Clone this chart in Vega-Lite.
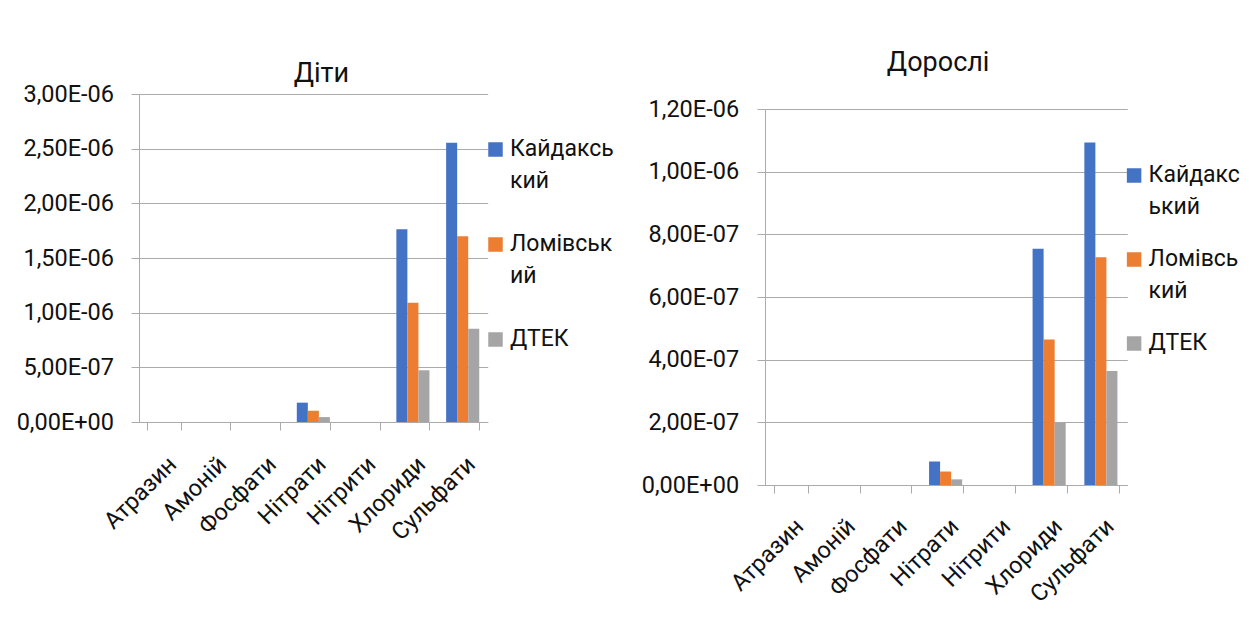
{
  "$schema": "https://vega.github.io/schema/vega-lite/v6.json",
  "background": "white",
  "padding": {"left": 16, "top": 48, "right": 0, "bottom": 0},
  "autosize": {"type": "pad"},
  "spacing": 27,
  "datasets": {
    "kids": [
      {"cat": "Атразин", "site": "Кайдаський", "v": 0},
      {"cat": "Атразин", "site": "Ломівський", "v": 0},
      {"cat": "Атразин", "site": "ДТЕК", "v": 0},
      {"cat": "Амоній", "site": "Кайдаський", "v": 0},
      {"cat": "Амоній", "site": "Ломівський", "v": 0},
      {"cat": "Амоній", "site": "ДТЕК", "v": 0},
      {"cat": "Фосфати", "site": "Кайдаський", "v": 0},
      {"cat": "Фосфати", "site": "Ломівський", "v": 0},
      {"cat": "Фосфати", "site": "ДТЕК", "v": 0},
      {"cat": "Нітрати", "site": "Кайдаський", "v": 1.77e-7},
      {"cat": "Нітрати", "site": "Ломівський", "v": 1.03e-7},
      {"cat": "Нітрати", "site": "ДТЕК", "v": 4.5e-8},
      {"cat": "Нітрити", "site": "Кайдаський", "v": 0},
      {"cat": "Нітрити", "site": "Ломівський", "v": 0},
      {"cat": "Нітрити", "site": "ДТЕК", "v": 0},
      {"cat": "Хлориди", "site": "Кайдаський", "v": 1.762e-6},
      {"cat": "Хлориди", "site": "Ломівський", "v": 1.09e-6},
      {"cat": "Хлориди", "site": "ДТЕК", "v": 4.73e-7},
      {"cat": "Сульфати", "site": "Кайдаський", "v": 2.553e-6},
      {"cat": "Сульфати", "site": "Ломівський", "v": 1.70e-6},
      {"cat": "Сульфати", "site": "ДТЕК", "v": 8.53e-7}
    ],
    "adults": [
      {"cat": "Атразин", "site": "Кайдаський", "v": 0},
      {"cat": "Атразин", "site": "Ломівський", "v": 0},
      {"cat": "Атразин", "site": "ДТЕК", "v": 0},
      {"cat": "Амоній", "site": "Кайдаський", "v": 0},
      {"cat": "Амоній", "site": "Ломівський", "v": 0},
      {"cat": "Амоній", "site": "ДТЕК", "v": 0},
      {"cat": "Фосфати", "site": "Кайдаський", "v": 0},
      {"cat": "Фосфати", "site": "Ломівський", "v": 0},
      {"cat": "Фосфати", "site": "ДТЕК", "v": 0},
      {"cat": "Нітрати", "site": "Кайдаський", "v": 7.5e-8},
      {"cat": "Нітрати", "site": "Ломівський", "v": 4.3e-8},
      {"cat": "Нітрати", "site": "ДТЕК", "v": 1.8e-8},
      {"cat": "Нітрити", "site": "Кайдаський", "v": 0},
      {"cat": "Нітрити", "site": "Ломівський", "v": 0},
      {"cat": "Нітрити", "site": "ДТЕК", "v": 0},
      {"cat": "Хлориди", "site": "Кайдаський", "v": 7.54e-7},
      {"cat": "Хлориди", "site": "Ломівський", "v": 4.64e-7},
      {"cat": "Хлориди", "site": "ДТЕК", "v": 2.0e-7},
      {"cat": "Сульфати", "site": "Кайдаський", "v": 1.093e-6},
      {"cat": "Сульфати", "site": "Ломівський", "v": 7.27e-7},
      {"cat": "Сульфати", "site": "ДТЕК", "v": 3.64e-7}
    ],
    "empty": []
  },
  "config": {
    "font": "Roboto",
    "view": {"stroke": null},
    "axis": {
      "labelFont": "Roboto",
      "labelFontSize": 23.5,
      "labelColor": "#111111",
      "domainColor": "#ABABAB",
      "tickColor": "#ABABAB",
      "gridColor": "#ABABAB",
      "domainWidth": 1,
      "tickWidth": 1,
      "gridWidth": 1,
      "tickSize": 8,
      "title": null
    },
    "legend": {
      "orient": "none",
      "title": null,
      "symbolType": "square",
      "symbolSize": 210,
      "symbolStrokeWidth": 0,
      "labelFont": "Roboto",
      "labelFontSize": 23,
      "labelColor": "#111111",
      "labelLimit": 0,
      "labelOffset": 3,
      "padding": 0,
      "labelBaseline": "top"
    },
    "title": {
      "font": "Roboto",
      "fontSize": 27,
      "fontWeight": "normal",
      "color": "#111111",
      "subtitleFont": "Roboto",
      "subtitleFontSize": 27,
      "subtitleColor": "#111111",
      "anchor": "middle",
      "frame": "group"
    }
  },
  "resolve": {"legend": {"color": "independent"}},
  "hconcat": [
    {
      "spacing": 0,
      "vconcat": [
        {
          "width": 1,
          "height": 1,
          "data": {"name": "empty"},
          "mark": {"type": "point", "opacity": 0},
          "encoding": {}
        },
        {
          "width": 348.7,
          "height": 328,
          "data": {"name": "kids"},
          "title": {"text": " ", "fontSize": 8, "subtitle": "Діти", "subtitlePadding": 4, "offset": -5, "dx": 8},
          "mark": {"type": "bar"},
          "encoding": {
            "x": {
              "field": "cat", "type": "nominal",
              "sort": ["Атразин", "Амоній", "Фосфати", "Нітрати", "Нітрити", "Хлориди", "Сульфати"],
              "scale": {"paddingInner": 0.335, "paddingOuter": 0.17},
              "axis": {"labelAngle": -45, "labelPadding": 22, "tickBand": "extent", "grid": false}
            },
            "xOffset": {"field": "site", "type": "nominal", "sort": ["Кайдаський", "Ломівський", "ДТЕК"]},
            "y": {
              "field": "v", "type": "quantitative",
              "scale": {"domain": [0, 3e-6], "nice": false, "zero": true},
              "axis": {
                "values": [0, 5e-7, 1e-6, 1.5e-6, 2e-6, 2.5e-6, 3e-6],
                "labelExpr": "replace(replace(replace(upper(format(datum.value, '.2e')), '.', ','), regexp('E-([0-9])$'), 'E-0$1'), regexp('E[+]([0-9])$'), 'E+0$1')",
                "labelPadding": 17.5,
                "grid": true
              }
            },
            "color": {
              "field": "site", "type": "nominal",
              "sort": ["Кайдаський", "Ломівський", "ДТЕК"],
              "scale": {"domain": ["Кайдаський", "Ломівський", "ДТЕК"], "range": ["#4472C4", "#ED7D31", "#A5A5A5"]},
              "legend": {
                "legendX": 345,
                "legendY": 90,
                "rowPadding": 39,
                "labelExpr": "datum.label == 'Кайдаський' ? ['Кайдаксь', 'кий'] : datum.label == 'Ломівський' ? ['Ломівськ', 'ий'] : datum.label",
                "encode": {"labels": {"update": {"lineHeight": {"value": 32}, "dy": {"value": -12}}}}
              }
            }
          }
        }
      ]
    },
    {
      "spacing": 0,
      "vconcat": [
        {
          "width": 1,
          "height": 1,
          "data": {"name": "empty"},
          "mark": {"type": "point", "opacity": 0},
          "encoding": {}
        },
        {
          "width": 362.3,
          "height": 376,
          "data": {"name": "adults"},
          "title": {"text": "Дорослі", "offset": 20, "dx": -8},
          "mark": {"type": "bar"},
          "encoding": {
            "x": {
              "field": "cat", "type": "nominal",
              "sort": ["Атразин", "Амоній", "Фосфати", "Нітрати", "Нітрити", "Хлориди", "Сульфати"],
              "scale": {"paddingInner": 0.34, "paddingOuter": 0.17},
              "axis": {"labelAngle": -45, "labelPadding": 21, "tickBand": "extent", "grid": false}
            },
            "xOffset": {"field": "site", "type": "nominal", "sort": ["Кайдаський", "Ломівський", "ДТЕК"]},
            "y": {
              "field": "v", "type": "quantitative",
              "scale": {"domain": [0, 1.2e-6], "nice": false, "zero": true},
              "axis": {
                "values": [0, 2e-7, 4e-7, 6e-7, 8e-7, 1e-6, 1.2e-6],
                "labelExpr": "replace(replace(replace(upper(format(datum.value, '.2e')), '.', ','), regexp('E-([0-9])$'), 'E-0$1'), regexp('E[+]([0-9])$'), 'E+0$1')",
                "labelPadding": 18.4,
                "grid": true
              }
            },
            "color": {
              "field": "site", "type": "nominal",
              "sort": ["Кайдаський", "Ломівський", "ДТЕК"],
              "scale": {"domain": ["Кайдаський", "Ломівський", "ДТЕК"], "range": ["#4472C4", "#ED7D31", "#A5A5A5"]},
              "legend": {
                "legendX": 357.6,
                "legendY": 116,
                "rowPadding": 28,
                "labelExpr": "datum.label == 'Кайдаський' ? ['Кайдакс', 'ький'] : datum.label == 'Ломівський' ? ['Ломівсь', 'кий'] : datum.label",
                "encode": {"labels": {"update": {"lineHeight": {"value": 32}, "dy": {"value": -12}}}}
              }
            }
          }
        }
      ]
    }
  ]
}
